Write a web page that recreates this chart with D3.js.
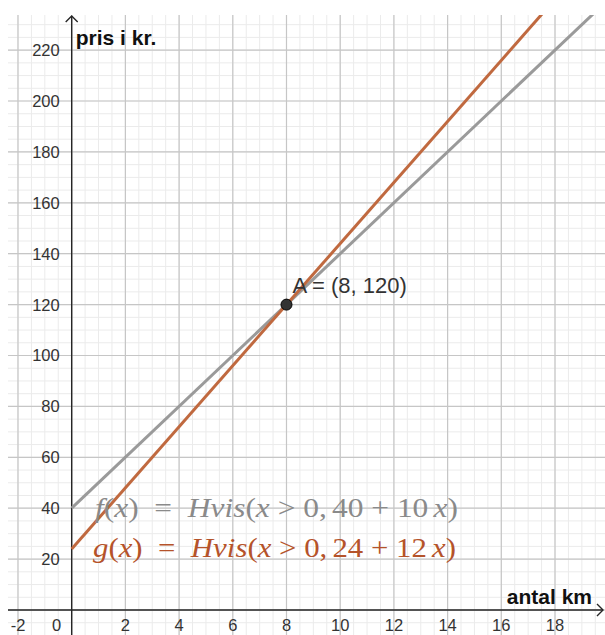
<!DOCTYPE html>
<html>
<head>
<meta charset="utf-8">
<script src="https://cdn.jsdelivr.net/npm/d3@7/dist/d3.min.js"></script>
<style>
  html, body { margin: 0; padding: 0; background: #fff; }
  svg { display: block; }
</style>
</head>
<body>
<svg id="chart" width="605" height="635"></svg>
<script>
// Axis ticks and labels
const xTickValues = [-2, 0, 2, 4, 6, 8, 10, 12, 14, 16, 18];
const yTickValues = [20, 40, 60, 80, 100, 120, 140, 160, 180, 200, 220];
const xAxisTitle = "antal km";
const yAxisTitle = "pris i kr.";

// The two price functions: price = intercept + slope * km, for km > 0
const funcNames = ["f", "g"];
const funcIntercepts = [40, 24];
const funcSlopes = [10, 12];
const funcColors = ["#9a9a9a", "#c0693f"];
const formulaColors = ["#8a8a8a", "#b5532a"];

// Intersection point
const pointName = "A";
const pointX = 8;
const pointY = 120;

const svg = d3.select("#chart");
const W = 605, H = 635;
const plotLeft = 8, plotTop = 15;

const x = d3.scaleLinear().domain([-2.372, 19.862]).range([plotLeft, W]);
const y = d3.scaleLinear().domain([-9.82, 233.8]).range([H, plotTop]);

const grid = svg.append("g");
// minor grid
grid.selectAll(".vminor").data(d3.range(-2, 20.01, 0.5)).join("line")
  .attr("x1", d => x(d)).attr("x2", d => x(d))
  .attr("y1", plotTop).attr("y2", H)
  .attr("stroke", "#ebebeb").attr("stroke-width", 1);
grid.selectAll(".hminor").data(d3.range(-5, 235, 5)).join("line")
  .attr("x1", plotLeft).attr("x2", W)
  .attr("y1", d => y(d)).attr("y2", d => y(d))
  .attr("stroke", "#ebebeb").attr("stroke-width", 1);
// major grid
grid.selectAll(".vmajor").data(xTickValues.concat([20])).join("line")
  .attr("x1", d => x(d)).attr("x2", d => x(d))
  .attr("y1", plotTop).attr("y2", H)
  .attr("stroke", "#c6c6c6").attr("stroke-width", 1.2);
grid.selectAll(".hmajor").data([0].concat(yTickValues)).join("line")
  .attr("x1", plotLeft).attr("x2", W)
  .attr("y1", d => y(d)).attr("y2", d => y(d))
  .attr("stroke", "#c6c6c6").attr("stroke-width", 1.2);

// axes
const axisColor = "#262626";
const ax = svg.append("g").attr("stroke", axisColor).attr("stroke-width", 1.4).attr("fill", "none");
ax.append("line").attr("x1", plotLeft).attr("x2", W - 2).attr("y1", y(0)).attr("y2", y(0));
ax.append("line").attr("x1", x(0)).attr("x2", x(0)).attr("y1", plotTop + 1).attr("y2", H);
// arrow heads
ax.append("path").attr("d", `M${W - 8},${y(0) - 6} L${W - 2},${y(0)} L${W - 8},${y(0) + 6}`);
ax.append("path").attr("d", `M${x(0) - 6},${plotTop + 7} L${x(0)},${plotTop + 1} L${x(0) + 6},${plotTop + 7}`);

// tick labels
const labelFont = "'Liberation Sans', Arial, sans-serif";
svg.append("g").selectAll("text").data(yTickValues).join("text")
  .attr("x", x(0) - 12).attr("y", d => y(d)).attr("dy", "0.36em")
  .attr("text-anchor", "end")
  .attr("font-family", labelFont).attr("font-size", 16.5).attr("fill", "#333")
  .text(d => d);
svg.append("g").selectAll("text").data(xTickValues).join("text")
  .attr("x", d => d === 0 ? x(0) - 15 : x(d)).attr("y", y(0) + 21)
  .attr("text-anchor", "middle")
  .attr("font-family", labelFont).attr("font-size", 16.5).attr("fill", "#333")
  .text(d => d);

// axis titles
svg.append("text").attr("x", x(0) + 4).attr("y", 45)
  .attr("font-family", labelFont).attr("font-weight", "bold").attr("font-size", 21)
  .attr("fill", "#111").text(yAxisTitle);
svg.append("text").attr("x", 592).attr("y", y(0) - 6).attr("text-anchor", "end")
  .attr("font-family", labelFont).attr("font-weight", "bold").attr("font-size", 21)
  .attr("fill", "#111").text(xAxisTitle);

// function graphs, clipped to the plot
svg.append("clipPath").attr("id", "plotclip").append("rect")
  .attr("x", plotLeft).attr("y", plotTop).attr("width", W - plotLeft).attr("height", H - plotTop);
const line = d3.line().x(d => x(d[0])).y(d => y(d[1]));
const xEnd = x.domain()[1];
const lines = svg.append("g").attr("clip-path", "url(#plotclip)");
funcNames.forEach((n, i) => {
  const pts = [[0, funcIntercepts[i]], [xEnd, funcIntercepts[i] + funcSlopes[i] * xEnd]];
  lines.append("path").attr("d", line(pts))
    .attr("fill", "none").attr("stroke", funcColors[i]).attr("stroke-width", 3)
    .attr("stroke-linecap", "butt");
});

// intersection point
svg.append("circle").attr("cx", x(pointX)).attr("cy", y(pointY)).attr("r", 5.5)
  .attr("fill", "#333").attr("stroke", "#000").attr("stroke-width", 1);
svg.append("text").attr("x", x(pointX) + 6).attr("y", y(pointY) - 12)
  .attr("font-family", labelFont).attr("font-size", 22).attr("fill", "#333")
  .text(`${pointName} = (${pointX}, ${pointY})`);

// formula labels in math style
const formulaY = [517, 557];
const formulaX = [95, 93];
const formulaW = [363, 363];
const thick = "\u2005", thin = "\u2006", wide = "\u2002";
funcNames.forEach((n, i) => {
  const t = svg.append("text").attr("x", formulaX[i]).attr("y", formulaY[i])
    .attr("font-family", "'Liberation Serif', 'Times New Roman', serif").attr("font-size", 27)
    .attr("fill", formulaColors[i])
    .style("white-space", "pre")
    .attr("textLength", formulaW[i]).attr("lengthAdjust", "spacingAndGlyphs");
  const parts = [
    [n, true], ["(", false], ["x", true], [")" + wide + "=" + wide, false],
    ["Hvis", true], ["(", false], ["x", true],
    [thick + ">" + thick + "0," + thin + funcIntercepts[i] + thick + "+" + thick + funcSlopes[i] + thin, false],
    ["x", true], [")", false]
  ];
  parts.forEach(([s, it]) => {
    t.append("tspan").attr("font-style", it ? "italic" : "normal").text(s);
  });
});
</script>
</body>
</html>
